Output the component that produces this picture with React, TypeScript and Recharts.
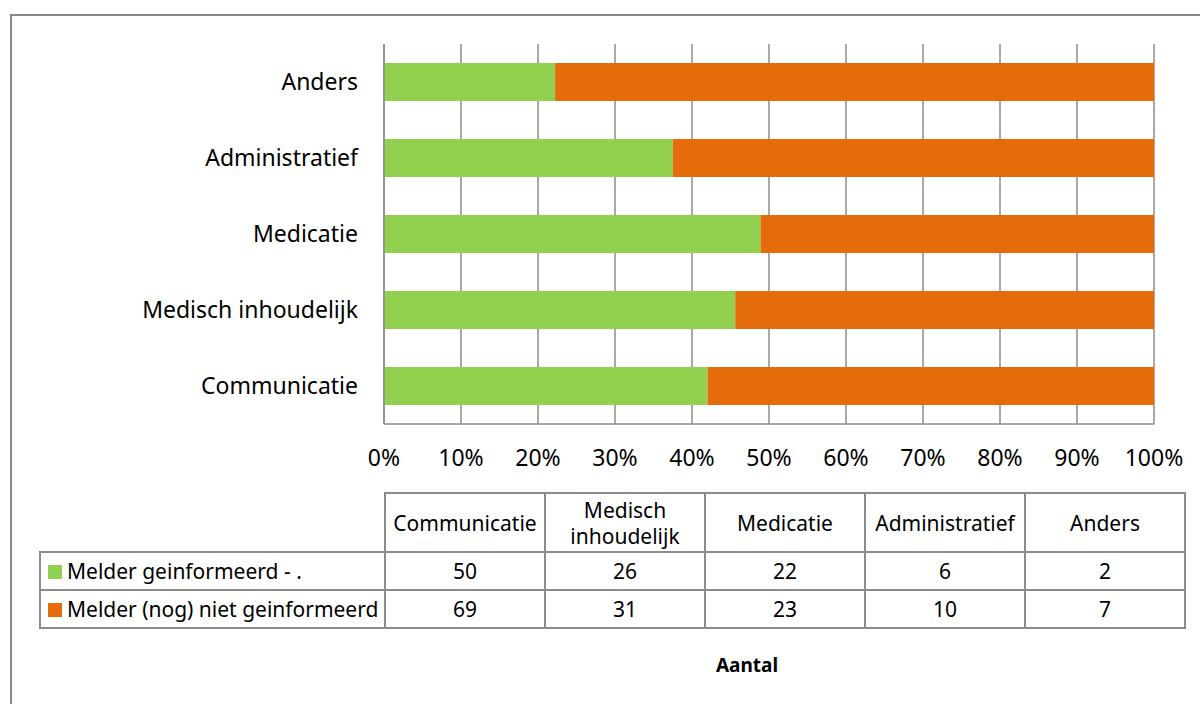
import { BarChart, Bar, XAxis, YAxis, CartesianGrid } from 'recharts';

const categories = ['Communicatie', 'Medisch inhoudelijk', 'Medicatie', 'Administratief', 'Anders'];
const informed = [50, 26, 22, 6, 2];
const notInformed = [69, 31, 23, 10, 7];
const seriesNames = ['Melder geinformeerd - .', 'Melder (nog) niet geinformeerd'];
const percentTicks = [0, 0.1, 0.2, 0.3, 0.4, 0.5, 0.6, 0.7, 0.8, 0.9, 1];
const axisTitle = 'Aantal';

const GREEN = '#92d050';
const ORANGE = '#e46c0a';
const LINE = '#8c8c8c';
const FONT = '"Noto Sans", "Open Sans", sans-serif';

const data = categories.map((name, i) => ({
    name,
    informed: informed[i],
    notInformed: notInformed[i],
}));

const cellBorder = `2px solid ${LINE}`;

const DataTable = () => {
    const rows = [
        { label: seriesNames[0], color: GREEN, values: informed },
        { label: seriesNames[1], color: ORANGE, values: notInformed },
    ];
    return (
        <table
            style={{
                position: 'absolute',
                left: 39,
                top: 492,
                borderCollapse: 'collapse',
                tableLayout: 'fixed',
                width: 1145,
                fontSize: 21,
                fontFamily: FONT,
                color: '#000',
            }}
        >
            <colgroup>
                <col style={{ width: 345 }} />
                {categories.map((c) => <col key={c} style={{ width: 160 }} />)}
            </colgroup>
            <tbody>
                <tr style={{ height: 59 }}>
                    <td style={{ border: 'none' }} />
                    {categories.map((c) => (
                        <td key={c} style={{ border: cellBorder, textAlign: 'center', lineHeight: '26px', padding: '0 4px' }}>
                            {c}
                        </td>
                    ))}
                </tr>
                {rows.map((r) => (
                    <tr key={r.label} style={{ height: 38 }}>
                        <td style={{ border: cellBorder, padding: '0 0 0 7px', whiteSpace: 'nowrap' }}>
                            <span style={{ display: 'inline-block', width: 14, height: 14, background: r.color, marginRight: 5 }} />
                            {r.label}
                        </td>
                        {r.values.map((v, i) => (
                            <td key={i} style={{ border: cellBorder, textAlign: 'center', padding: 0 }}>{v}</td>
                        ))}
                    </tr>
                ))}
            </tbody>
        </table>
    );
};

export default function App() {
    return (
        <div style={{ position: 'absolute', left: 0, top: 0, width: 1200, height: 704, overflow: 'hidden', background: '#fff', fontFamily: FONT }}>
            <div style={{ position: 'absolute', left: 10, top: 14, width: 1200, height: 720, border: `2px solid #898989` }} />
            <div style={{ position: 'absolute', left: 0, top: 0 }}>
                <BarChart
                    width={1200}
                    height={704}
                    data={data}
                    layout="vertical"
                    stackOffset="expand"
                    barSize={38}
                    margin={{ top: 44, right: 46, left: 0, bottom: 220 }}
                >
                    <CartesianGrid horizontal={false} stroke={LINE} strokeWidth={1.5} />
                    <XAxis
                        type="number"
                        domain={[0, 1]}
                        ticks={percentTicks}
                        interval={0}
                        tickFormatter={(v: number) => `${Math.round(v * 100)}%`}
                        tickLine={false}
                        axisLine={{ stroke: LINE, strokeWidth: 1.5 }}
                        tick={{ fill: '#000', fontSize: 23 }}
                        tickMargin={20}
                        height={60}
                    />
                    <YAxis
                        type="category"
                        dataKey="name"
                        reversed
                        width={384}
                        tickLine={false}
                        axisLine={{ stroke: LINE, strokeWidth: 1.5 }}
                        tick={{ fill: '#000', fontSize: 23 }}
                        tickMargin={20}
                    />
                    <Bar dataKey="informed" stackId="a" fill={GREEN} isAnimationActive={false} />
                    <Bar dataKey="notInformed" stackId="a" fill={ORANGE} isAnimationActive={false} />
                </BarChart>
            </div>
            <DataTable />
            <div style={{ position: 'absolute', left: 697, width: 100, top: 652, textAlign: 'center', fontWeight: 'bold', fontSize: 19 }}>
                {axisTitle}
            </div>
        </div>
    );
}
